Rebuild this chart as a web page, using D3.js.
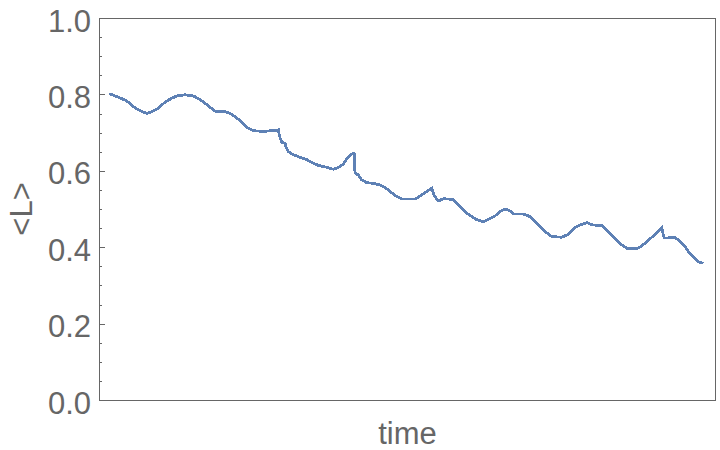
<!DOCTYPE html>
<meta charset="utf-8">
<style type="text/css">
	body {
		margin: 0;
		background: #fff;
		font-family: "Liberation Sans", Arial, sans-serif;
	}

	.axis text {
		font-size: 31px;
		fill: #666;
	}

	.axis line {
		stroke: #666;
		stroke-width: 1px;
		shape-rendering: crispEdges;
	}

	.domain {
		display: none;
	}

	.frame {
		fill: none;
		stroke: #666;
		stroke-width: 1px;
		shape-rendering: crispEdges;
	}

	.line {
		fill: none;
		stroke: #5e81b5;
		stroke-width: 2.8px;
		shape-rendering: crispEdges;
	}

	.label {
		font-size: 31px;
		fill: #666;
	}
</style>

<body>
<div class="g-chart"></div>
</body>

<script src="https://d3js.org/d3.v7.min.js"></script>

<script>
  // time (arbitrary units, 0..100) and <L>
  var time = [0, 1.51, 2.97, 3.82, 4.66, 5.50, 6.34, 7.18, 8.29, 9.41, 10.54, 11.38, 12.77, 14.17, 15.01,
    16.13, 16.97, 17.82, 19.50, 20.50, 21.46, 22.30, 23.14, 24.25, 25.93, 28.45, 28.57, 28.74, 29.03,
    29.58, 29.75, 30.13, 30.97, 32.10, 33.23, 34.34, 35.18, 36.59, 37.70, 38.54, 39.38, 40.05, 40.79,
    41.18, 41.23, 41.34, 41.90, 42.47, 43.31, 44.42, 45.55, 46.39, 47.23, 48.07, 49.19, 51.43, 52.15,
    53.40, 54.24, 54.62, 55.35, 56.19, 57.87, 58.44, 59.28, 60.12, 60.96, 61.80, 62.91, 63.75, 64.87,
    65.71, 66.55, 67.39, 67.95, 69.63, 70.76, 71.60, 72.44, 73.28, 74.40, 76.08, 77.19, 78.32, 79.16,
    80.29, 81.40, 82.81, 83.65, 84.49, 85.33, 86.17, 87.01, 88.69, 89.53, 90.37, 91.21, 92.05, 92.89,
    93.28, 95.13, 95.97, 96.81, 97.36, 98.20, 99.04, 99.88];

  var meanL = [0.802, 0.793, 0.783, 0.771, 0.762, 0.755, 0.750, 0.755, 0.764, 0.780, 0.790, 0.796, 0.799,
    0.796, 0.789, 0.777, 0.766, 0.756, 0.755, 0.749, 0.738, 0.728, 0.713, 0.705, 0.703, 0.707, 0.697,
    0.686, 0.675, 0.671, 0.661, 0.650, 0.642, 0.635, 0.629, 0.620, 0.614, 0.609, 0.604, 0.609, 0.618,
    0.633, 0.644, 0.646, 0.616, 0.594, 0.589, 0.576, 0.569, 0.567, 0.563, 0.556, 0.546, 0.535, 0.526,
    0.526, 0.533, 0.546, 0.555, 0.535, 0.521, 0.527, 0.525, 0.515, 0.502, 0.489, 0.480, 0.472, 0.467,
    0.473, 0.482, 0.493, 0.500, 0.495, 0.487, 0.487, 0.480, 0.467, 0.454, 0.441, 0.428, 0.426, 0.434,
    0.452, 0.458, 0.464, 0.458, 0.457, 0.443, 0.430, 0.417, 0.406, 0.397, 0.396, 0.403, 0.415, 0.426,
    0.437, 0.450, 0.424, 0.425, 0.415, 0.402, 0.389, 0.375, 0.362, 0.358];

  var yTicks = [0, 0.2, 0.4, 0.6, 0.8, 1.0];
  var yMinorTicks = [0.05, 0.1, 0.15, 0.25, 0.3, 0.35, 0.45, 0.5, 0.55, 0.65, 0.7, 0.75, 0.85, 0.9, 0.95];

  //Margin conventions
  var margin = { top: 18, right: 4, bottom: 50, left: 99 };
  var width = 720 - margin.left - margin.right,
    height = 450 - margin.top - margin.bottom;

  var svg = d3.select(".g-chart").append("svg")
    .attr("width", 720)
    .attr("height", 450)
    .append("g")
    .attr("transform", "translate(" + margin.left + "," + margin.top + ")");

  var data = time.map(function(t, i) { return { t: t, v: meanL[i] }; });

  //Scales (2% padding on time like the original)
  var xScale = d3.scaleLinear()
    .domain([-1.7, 102])
    .range([0, width]);

  var yScale = d3.scaleLinear()
    .domain([0, 1])
    .range([height, 0]);

  //Major ticks, pointing inward
  var yAxis = d3.axisLeft(yScale)
    .tickValues(yTicks)
    .tickSize(-6)
    .tickPadding(8)
    .tickFormat(d3.format(".1f"));

  var yAxisGroup = svg.append("g")
    .attr("class", "y axis")
    .call(yAxis);

  yAxisGroup.selectAll("text")
    .attr("dy", "0.42em");

  //Minor ticks
  svg.append("g")
    .attr("class", "y axis minor")
    .call(d3.axisLeft(yScale)
      .tickValues(yMinorTicks)
      .tickSize(-3)
      .tickFormat(""));

  //Frame
  svg.append("rect")
    .attr("class", "frame")
    .attr("x", 0.5)
    .attr("y", 0.5)
    .attr("width", width - 1)
    .attr("height", height);

  //Data line
  var line = d3.line()
    .x(function(d) { return xScale(d.t); })
    .y(function(d) { return yScale(d.v); });

  svg.append("path")
    .datum(data)
    .attr("class", "line")
    .attr("d", line);

  //Axis labels
  svg.append("text")
    .attr("class", "label")
    .attr("text-anchor", "middle")
    .attr("x", width / 2)
    .attr("y", height + 44)
    .text("time");

  svg.append("text")
    .attr("class", "label")
    .attr("text-anchor", "middle")
    .attr("transform", "translate(" + (32 - margin.left) + "," + (209 - margin.top) + ") rotate(-90)")
    .text("<L>");
</script>
